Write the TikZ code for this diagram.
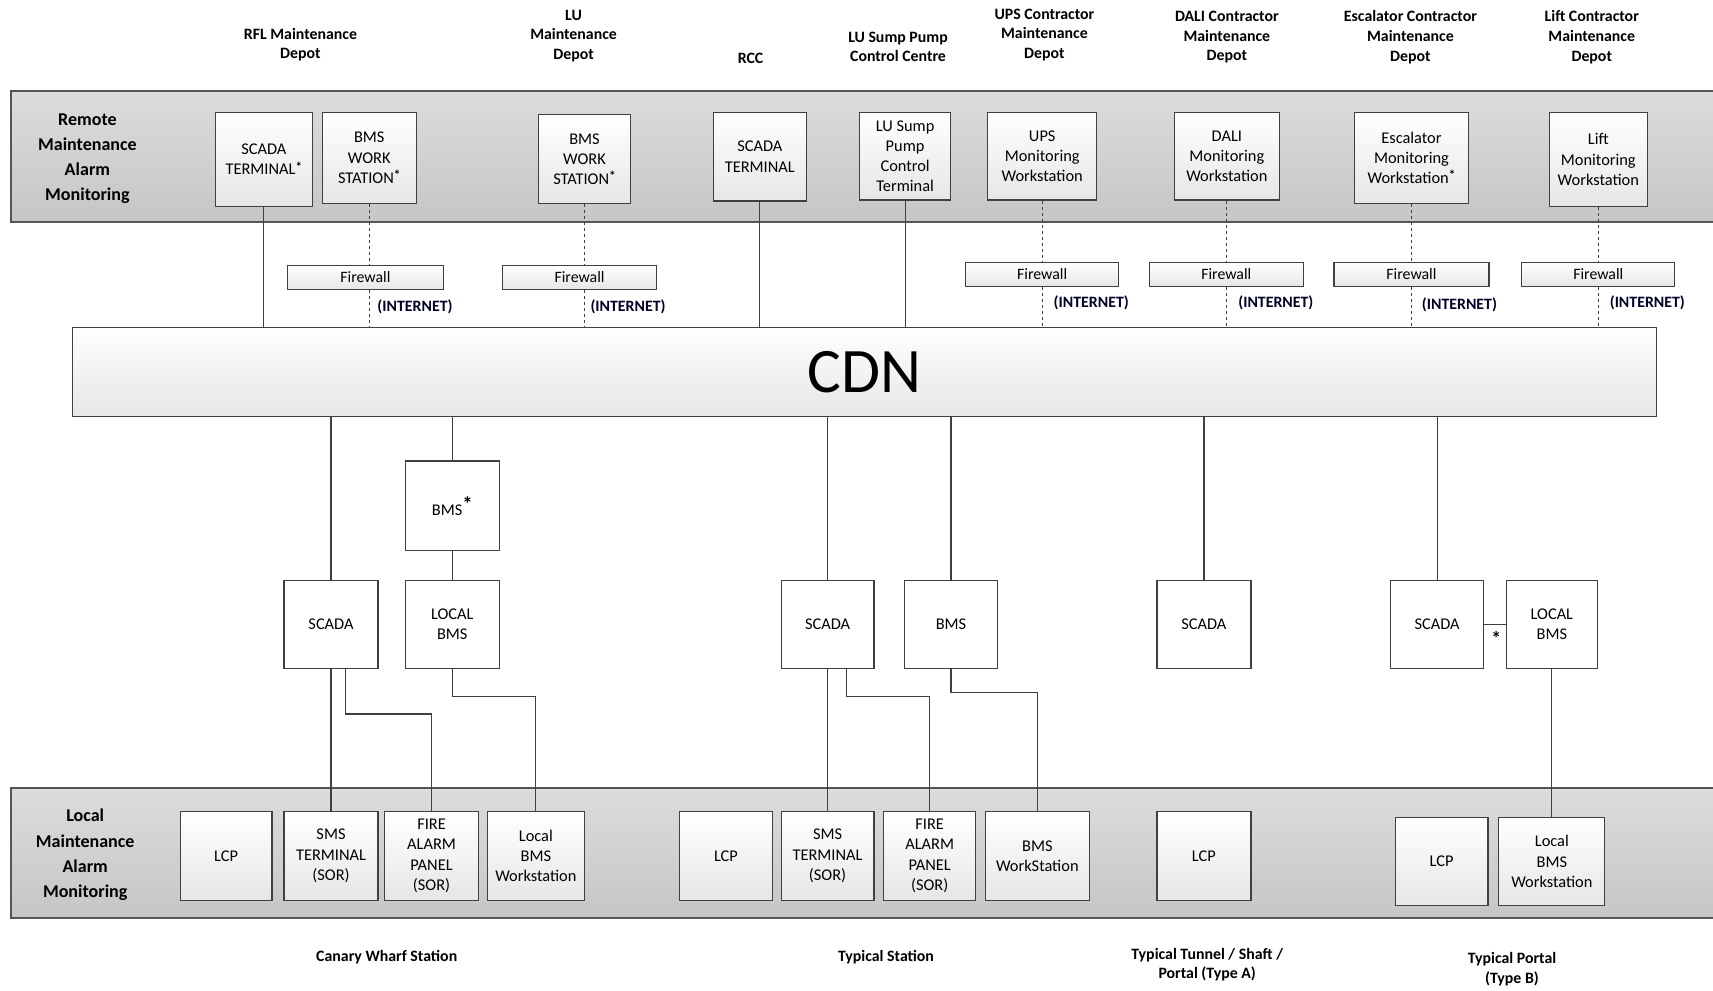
\documentclass[tikz,border=0pt]{standalone}
\usepackage{fontspec}
\setmainfont{Carlito}
\definecolor{linec}{HTML}{404040}
\definecolor{boxbot}{HTML}{E6E6E6}
\definecolor{bandtop}{HTML}{DCDCDC}
\definecolor{bandbot}{HTML}{C6C6C6}
\definecolor{bandline}{HTML}{555555}
\newcommand\astk{\raisebox{3.5pt}{\bfseries\fontsize{12}{12}\selectfont *}}
\begin{document}
\begin{tikzpicture}[x=1pt,y=-1pt,
  box/.style={draw=linec, line width=1.1pt, top color=white, bottom color=boxbot, align=center, inner sep=1pt, font=\fontsize{15}{18.5}\selectfont},
  wbox/.style={draw=linec, line width=1.1pt, fill=white, align=center, inner sep=1pt, font=\fontsize{15}{18.5}\selectfont},
  fwbox/.style={draw=linec, line width=1.1pt, top color=white, bottom color=boxbot, minimum height=22pt, inner sep=0pt, font=\fontsize{14.5}{16}\selectfont},
  toplbl/.style={align=center, font=\bfseries\fontsize{14.5}{18}\selectfont},
  bandlbl/.style={align=center, font=\bfseries\fontsize{16.5}{23}\selectfont},
  netlbl/.style={anchor=west, font=\bfseries\fontsize{14.5}{16}\selectfont, text=black!85!blue},
  band/.style={draw=bandline, line width=1.8pt, top color=bandtop, bottom color=bandbot},
  conn/.style={draw=linec, line width=1.1pt},
  dconn/.style={draw=linec, line width=1.1pt, dash pattern=on 3pt off 2.5pt},
]
\useasboundingbox (0,0) rectangle (1568,907);

% bands
\path[band] (10,83) rectangle (1590,203);
\path[band] (10,721) rectangle (1590,840);
\node[bandlbl] (rlbl) at (80,145.5) {Remote\\Maintenance\\Alarm\\Monitoring};
\node[bandlbl] (llbl) at (78,782.5) {Local\\Maintenance\\Alarm\\Monitoring};

% top labels
\node[toplbl] (t1) at (275,41) {RFL Maintenance\\Depot};
\node[toplbl] (t2) at (525,33) {LU\\Maintenance\\Depot};
\node[toplbl] (t3) at (687,53) {RCC};
\node[toplbl] (t4) at (822,43) {LU Sump Pump\\Control Centre};
\node[toplbl] (t5) at (956,32) {UPS Contractor\\Maintenance\\Depot};
\node[toplbl] (t6) at (1123,34) {DALI Contractor\\Maintenance\\Depot};
\node[toplbl] (t7) at (1291,34) {Escalator Contractor\\Maintenance\\Depot};
\node[toplbl] (t8) at (1457,34) {Lift Contractor\\Maintenance\\Depot};

% top boxes
\node[box, minimum width=89pt, minimum height=86pt] (st1) at (241.5,146) {SCADA\\TERMINAL\astk};
\node[box, minimum width=86pt, minimum height=83pt] (bw1) at (338,144.5) {BMS\\WORK\\STATION\astk};
\node[box, minimum width=84pt, minimum height=81pt] (bw2) at (535,145.5) {BMS\\WORK\\STATION\astk};
\node[box, minimum width=85pt, minimum height=81pt] (st2) at (695.5,143.5) {SCADA\\TERMINAL};
\node[box, minimum width=83pt, minimum height=80pt] (lus) at (828.5,143) {LU Sump\\Pump\\Control\\Terminal};
\node[box, minimum width=100pt, minimum height=80pt] (ups) at (954,143) {UPS\\Monitoring\\Workstation};
\node[box, minimum width=96pt, minimum height=80pt] (dali) at (1123,143) {DALI\\Monitoring\\Workstation};
\node[box, minimum width=104pt, minimum height=83pt] (esc) at (1292,144.5) {Escalator\\Monitoring\\Workstation\astk};
\node[box, minimum width=90pt, minimum height=86pt] (lift) at (1463,146) {Lift\\Monitoring\\Workstation};

% CDN
\node[box, minimum width=1450pt, minimum height=81pt, font=\fontsize{58}{60}\selectfont] (cdn) at (791,340.5) {CDN};

% firewalls
\node[fwbox, minimum width=143pt] (fw1) at (334.5,254) {Firewall};
\node[fwbox, minimum width=141pt] (fw2) at (530.5,254) {Firewall};
\node[fwbox, minimum width=140pt] (fw3) at (954,251) {Firewall};
\node[fwbox, minimum width=141pt] (fw4) at (1122.5,251) {Firewall};
\node[fwbox, minimum width=142pt] (fw5) at (1292,251) {Firewall};
\node[fwbox, minimum width=140pt] (fw6) at (1463,251) {Firewall};

\node[netlbl] (n1) at (342,281) {(INTERNET)};
\node[netlbl] (n2) at (537,281) {(INTERNET)};
\node[netlbl] (n3) at (961,277) {(INTERNET)};
\node[netlbl] (n4) at (1130,277) {(INTERNET)};
\node[netlbl] (n5) at (1298,279) {(INTERNET)};
\node[netlbl] (n6) at (1470,277) {(INTERNET)};

% top connectors
\draw[conn] (st1.south) -- (st1.south |- cdn.north);
\draw[conn] (st2.south) -- (st2.south |- cdn.north);
\draw[conn] (lus.south) -- (lus.south |- cdn.north);
\foreach \b/\f in {bw1/fw1, bw2/fw2, ups/fw3, dali/fw4, esc/fw5, lift/fw6}{
  \draw[dconn] (\b.south) -- (\b.south |- \f.north);
  \draw[dconn] (\b.south |- \f.south) -- (\b.south |- cdn.north);
}

% middle boxes
\node[wbox, minimum width=86pt, minimum height=81pt] (sc1) at (303,571.5) {SCADA};
\node[wbox, minimum width=86pt, minimum height=82pt] (bmss) at (414,463) {BMS\raisebox{4pt}{\fontsize{19}{19}\selectfont\bfseries *}};
\node[wbox, minimum width=86pt, minimum height=81pt] (lb1) at (414,571.5) {LOCAL\\BMS};
\node[wbox, minimum width=85pt, minimum height=81pt] (sc2) at (757.5,571.5) {SCADA};
\node[wbox, minimum width=85pt, minimum height=81pt] (bms2) at (870.5,571.5) {BMS};
\node[wbox, minimum width=86pt, minimum height=81pt] (sc3) at (1102,571.5) {SCADA};
\node[wbox, minimum width=85pt, minimum height=81pt] (sc4) at (1315.5,571.5) {SCADA};
\node[wbox, minimum width=83pt, minimum height=81pt] (lb2) at (1420.5,571.5) {LOCAL\\BMS};

% bottom boxes
\node[box, minimum width=84pt, minimum height=81pt] (lcp1) at (207,783.5) {LCP};
\node[box, minimum width=86pt, minimum height=81pt] (sms1) at (303,783.5) {SMS\\TERMINAL\\(SOR)};
\node[box, minimum width=86pt, minimum height=81pt] (fap1) at (395,783.5) {FIRE\\ALARM\\PANEL\\(SOR)};
\node[box, minimum width=89pt, minimum height=81pt] (lbw1) at (490.5,783.5) {Local\\BMS\\Workstation};
\node[box, minimum width=85pt, minimum height=81pt] (lcp2) at (664.5,783.5) {LCP};
\node[box, minimum width=85pt, minimum height=81pt] (sms2) at (757.5,783.5) {SMS\\TERMINAL\\(SOR)};
\node[box, minimum width=84pt, minimum height=81pt] (fap2) at (851,783.5) {FIRE\\ALARM\\PANEL\\(SOR)};
\node[box, minimum width=95pt, minimum height=81pt] (bmsw) at (949.5,783.5) {BMS\\WorkStation};
\node[box, minimum width=86pt, minimum height=81pt] (lcp3) at (1102,783.5) {LCP};
\node[box, minimum width=85pt, minimum height=81pt] (lcp4) at (1319.5,788.5) {LCP};
\node[box, minimum width=97pt, minimum height=81pt] (lbw2) at (1420.5,788.5) {Local\\BMS\\Workstation};

% lower connectors
\draw[conn] (sc1.north |- cdn.south) -- (sc1.north);
\draw[conn] (sc1.south) -- (sms1.north);
\draw[conn] ([xshift=13pt]sc1.south) -- ++(0,41) -| (fap1.north);
\draw[conn] (bmss.north |- cdn.south) -- (bmss.north);
\draw[conn] (bmss.south) -- (lb1.north);
\draw[conn] (lb1.south) -- ++(0,25) -| (lbw1.north);
\draw[conn] (sc2.north |- cdn.south) -- (sc2.north);
\draw[conn] (sc2.south) -- (sms2.north);
\draw[conn] ([xshift=17pt]sc2.south) -- ++(0,25) -| (fap2.north);
\draw[conn] (bms2.north |- cdn.south) -- (bms2.north);
\draw[conn] (bms2.south) -- ++(0,21) -| (bmsw.north);
\draw[conn] (sc3.north |- cdn.south) -- (sc3.north);
\draw[conn] (sc4.north |- cdn.south) -- (sc4.north);
\draw[conn] (sc4.east) -- (lb2.west);
\node[font=\bfseries\fontsize{18}{18}\selectfont] (ast) at (1369.5,584) {*};
\draw[conn] (lb2.south) -- (lbw2.north);

% bottom labels
\node[toplbl] (b1) at (354,876) {Canary Wharf Station};
\node[toplbl] (b2) at (811,876) {Typical Station};
\node[toplbl] (b3) at (1105,883) {Typical Tunnel / Shaft /\\Portal (Type A)};
\node[toplbl] (b4) at (1384,887) {Typical Portal\\(Type B)};
\end{tikzpicture}
\end{document}
